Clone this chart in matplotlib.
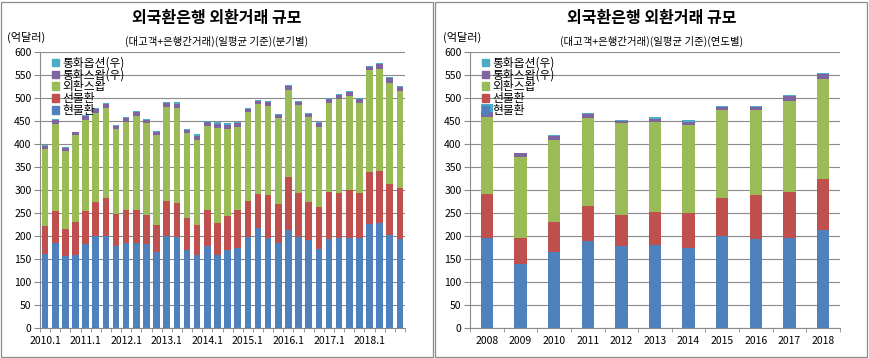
import matplotlib
matplotlib.use("Agg")
import matplotlib.pyplot as plt
from matplotlib.patches import Patch, Rectangle
import numpy as np

plt.rcParams['font.family'] = ['Noto Sans CJK KR', 'DejaVu Sans']

# ----- 데이터: 분기별 (억달러) -----
quarters = [f"{y}.{q}" for y in range(2010, 2019) for q in range(1, 5)]
q_spot = [161, 185, 157, 159, 183, 200, 200, 179, 185, 185, 183, 165,
          200, 198, 170, 158, 179, 158, 170, 174, 198, 218, 196, 185,
          213, 198, 192, 172, 193, 196, 196, 196, 226, 229, 202, 193]
q_fwd = [61, 69, 58, 71, 71, 74, 83, 69, 72, 72, 63, 59,
         76, 74, 70, 66, 78, 70, 74, 83, 78, 74, 94, 85,
         116, 96, 82, 91, 102, 98, 104, 98, 114, 113, 111, 112]
q_swap = [167, 190, 170, 190, 198, 194, 196, 184, 191, 204, 200, 195,
          204, 207, 183, 185, 183, 206, 189, 181, 194, 196, 193, 187,
          189, 191, 185, 175, 195, 203, 205, 196, 220, 222, 220, 210]
q_cswap = [7, 8, 6, 6, 8, 9, 9, 8, 9, 9, 7, 8,
           9, 9, 7, 9, 8, 9, 9, 8, 7, 6, 8, 7,
           8, 7, 7, 7, 8, 9, 8, 7, 8, 9, 10, 10]
q_opt = [2, 2, 2, 1, 3, 2, 2, 2, 2, 2, 2, 2,
         2, 3, 2, 4, 2, 4, 3, 2, 2, 2, 2, 2,
         2, 2, 2, 2, 2, 3, 2, 2, 2, 3, 2, 2]

# ----- 데이터: 연도별 (억달러) -----
years = [str(y) for y in range(2008, 2019)]
y_spot = [196, 139, 165, 189, 179, 180, 174, 200, 193, 196, 213]
y_fwd = [95, 57, 65, 77, 67, 73, 76, 83, 97, 100, 111]
y_swap = [168, 176, 179, 190, 199, 195, 192, 192, 185, 198, 217]
y_cswap = [11, 8, 8, 9, 6, 6, 6, 6, 6, 11, 11]
y_opt = [18, 1, 2, 3, 2, 5, 4, 2, 2, 2, 3]

labels = ['현물환', '선물환', '외환스왑', '통화스왑(우)', '통화옵션(우)']
colors = ['#4F81BD', '#C0504D', '#9BBB59', '#8064A2', '#4BACC6']

fig = plt.figure(figsize=(8.69, 3.58), dpi=100)

# 패널 테두리
for x0, x1 in [(1, 433), (435, 867)]:
    fig.patches.append(Rectangle((x0 / 869, 1 / 358), (x1 - x0) / 869, 355 / 358,
                                 transform=fig.transFigure, fill=False,
                                 edgecolor='#8c8c8c', linewidth=0.9))


def draw(ax, cats, series, width, ticklabels, tickpos):
    x = np.arange(len(cats))
    bottom = np.zeros(len(cats))
    for vals, c in zip(series, colors):
        ax.bar(x, vals, width, bottom=bottom, color=c, linewidth=0, zorder=3)
        bottom += np.array(vals)
    ax.set_xlim(-0.5, len(cats) - 0.5)
    ax.set_ylim(0, 600)
    ax.set_yticks(range(0, 601, 50))
    ax.yaxis.grid(True, color='#8a8a8a', linewidth=0.8)
    ax.set_axisbelow(True)
    for s in ['top', 'right']:
        ax.spines[s].set_visible(False)
    for s in ['left', 'bottom']:
        ax.spines[s].set_color('#8a8a8a')
    ax.tick_params(axis='y', length=4, color='#8a8a8a', labelsize=7.5, pad=2)
    ax.set_xticks(tickpos)
    ax.set_xticklabels(ticklabels)
    ax.tick_params(axis='x', length=0, labelsize=7.5, pad=6)
    ax.set_xticks(np.arange(len(cats) + 1) - 0.5, minor=True)
    ax.tick_params(axis='x', which='minor', length=3, color='#8a8a8a')
    handles = [Patch(color=c) for c in colors][::-1]
    leg = ax.legend(handles, labels[::-1], loc='upper left', bbox_to_anchor=(0.02, 1.0),
                    frameon=False, fontsize=8.5, handlelength=0.6, handleheight=0.6,
                    handletextpad=0.3, labelspacing=-0.1, borderaxespad=0)
    leg.set_zorder(5)


ax1 = fig.add_axes([40 / 869, 1 - 328 / 358, 365 / 869, 276 / 358])
draw(ax1, quarters, [q_spot, q_fwd, q_swap, q_cswap, q_opt], 0.65,
     quarters[::4], np.arange(0, 36, 4))

ax2 = fig.add_axes([470 / 869, 1 - 328 / 358, 370 / 869, 276 / 358])
draw(ax2, years, [y_spot, y_fwd, y_swap, y_cswap, y_opt], 0.37,
     years, np.arange(len(years)))

for cx, lx, sub in [(217, 7, '(대고객+은행간거래)(일평균 기준)(분기별)'),
                    (652, 443, '(대고객+은행간거래)(일평균 기준)(연도별)')]:
    fig.text(cx / 869, 1 - 18 / 358, '외국환은행 외환거래 규모', ha='center', va='center',
             fontsize=11.5, fontweight='bold')
    fig.text(cx / 869, 1 - 41 / 358, sub, ha='center', va='center', fontsize=7.5)
    fig.text(lx / 869, 1 - 37 / 358, '(억달러)', ha='left', va='center', fontsize=8)

fig.savefig('out.png', dpi=100)
